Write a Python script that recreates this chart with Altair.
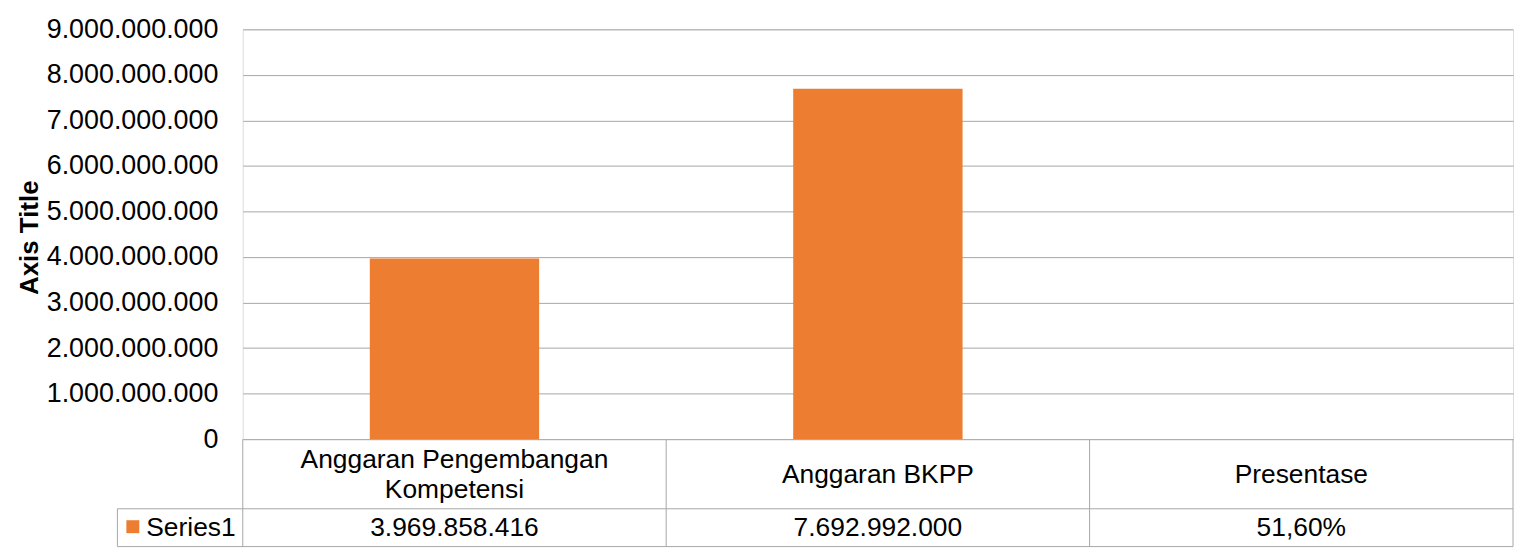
import altair as alt
import pandas as pd

# ---- data ----
categories = ["Anggaran Pengembangan\nKompetensi", "Anggaran BKPP", "Presentase"]
values = [3969858416, 7692992000, 0.516]
value_labels = ["3.969.858.416", "7.692.992.000", "51,60%"]
series_name = "Series1"
y_ticks = [0, 1e9, 2e9, 3e9, 4e9, 5e9, 6e9, 7e9, 8e9, 9e9]
y_title = "Axis Title"

df = pd.DataFrame({
    "idx": list(range(len(categories))),
    "category": categories,
    "value": values,
    "label": value_labels,
})
bounds = pd.DataFrame({"b": list(range(len(categories) + 1))})
single = pd.DataFrame({"series": [series_name]})

# ---- style ----
W, H = 1277, 412
FONT = "Liberation Sans"
GRID = "#a6a6a6"
ORANGE = "#ED7D31"
FS = 26.5
HEADER_TOP = H          # table header row top (plot bottom)
ROW_TOP = H + 70        # data row top
ROW_BOTTOM = H + 108    # table bottom
LEFT_CELL = -126        # left edge of series-name cell
LINE_H = 30

xscale = alt.Scale(domain=[0, len(categories)], nice=False, zero=False)
yscale = alt.Scale(domain=[0, 9e9], nice=False, zero=True)

bars = alt.Chart(df).transform_calculate(
    x0="datum.idx + 0.3", x1="datum.idx + 0.7"
).mark_bar(color=ORANGE).encode(
    x=alt.X("x0:Q", scale=xscale, axis=None),
    x2="x1:Q",
    y=alt.Y("value:Q", scale=yscale, axis=alt.Axis(
        values=y_ticks, format=",.0f", title=y_title,
        grid=True, gridColor=GRID, gridWidth=1, domain=False, ticks=False,
        labelFont=FONT, labelFontSize=27, labelColor="black", labelPadding=25,
        labelOverlap=False, labelBound=False,
        titleFont=FONT, titleFontSize=26, titleFontWeight="bold", titleColor="black",
        titleAngle=270, titleX=-214, titleY=H / 2 + 3, titleAlign="center", titleBaseline="middle",
    )),
    y2=alt.datum(0),
)

header_base = alt.Chart(df).transform_calculate(xc="datum.idx + 0.5")
header_multi = header_base.transform_filter(
    "indexof(datum.category, '\\n') >= 0"
).mark_text(
    font=FONT, fontSize=FS, color="black", lineBreak="\n", lineHeight=LINE_H,
    align="center", baseline="middle", dy=-LINE_H / 2,
).encode(
    x=alt.X("xc:Q", scale=xscale),
    y=alt.value(HEADER_TOP + 36),
    text="category:N",
)
header_single = header_base.transform_filter(
    "indexof(datum.category, '\\n') < 0"
).mark_text(
    font=FONT, fontSize=FS, color="black", align="center", baseline="middle",
).encode(
    x=alt.X("xc:Q", scale=xscale),
    y=alt.value(HEADER_TOP + 36),
    text="category:N",
)

value_text = alt.Chart(df).transform_calculate(xc="datum.idx + 0.5").mark_text(
    font=FONT, fontSize=FS, color="black", align="center", baseline="middle",
).encode(
    x=alt.X("xc:Q", scale=xscale),
    y=alt.value(ROW_TOP + 19),
    text="label:N",
)

vlines = alt.Chart(bounds).mark_rule(color=GRID, strokeWidth=1).encode(
    x=alt.X("b:Q", scale=xscale),
    y=alt.value(HEADER_TOP),
    y2=alt.value(ROW_BOTTOM),
)

row_line = alt.Chart(single).mark_rule(color=GRID, strokeWidth=1).encode(
    x=alt.value(LEFT_CELL), x2=alt.value(W), y=alt.value(ROW_TOP),
)
bottom_line = alt.Chart(single).mark_rule(color=GRID, strokeWidth=1).encode(
    x=alt.value(LEFT_CELL), x2=alt.value(W), y=alt.value(ROW_BOTTOM),
)
left_line = alt.Chart(single).mark_rule(color=GRID, strokeWidth=1).encode(
    x=alt.value(LEFT_CELL), y=alt.value(ROW_TOP), y2=alt.value(ROW_BOTTOM),
)

legend_sq = alt.Chart(single).mark_square(color=ORANGE, opacity=1, size=169).encode(
    x=alt.value(LEFT_CELL + 15.5), y=alt.value(ROW_TOP + 18),
)
legend_txt = alt.Chart(single).mark_text(
    font=FONT, fontSize=FS, color="black", align="left", baseline="middle",
).encode(
    x=alt.value(LEFT_CELL + 29), y=alt.value(ROW_TOP + 19), text="series:N",
)

chart = alt.layer(
    bars, header_multi, header_single, value_text, vlines,
    row_line, bottom_line, left_line, legend_sq, legend_txt
).properties(
    width=W, height=H,
    autosize=alt.AutoSizeParams(type="none"),
    padding={"left": 236, "top": 20, "right": 3, "bottom": 112},
).configure_view(
    stroke=GRID, strokeWidth=1,
).configure(
    locale={"number": {"decimal": ",", "thousands": ".", "grouping": [3], "currency": ["Rp", ""]}},
    background="white",
)

chart.save("out.html", embed_options={"renderer": "svg", "actions": False})
